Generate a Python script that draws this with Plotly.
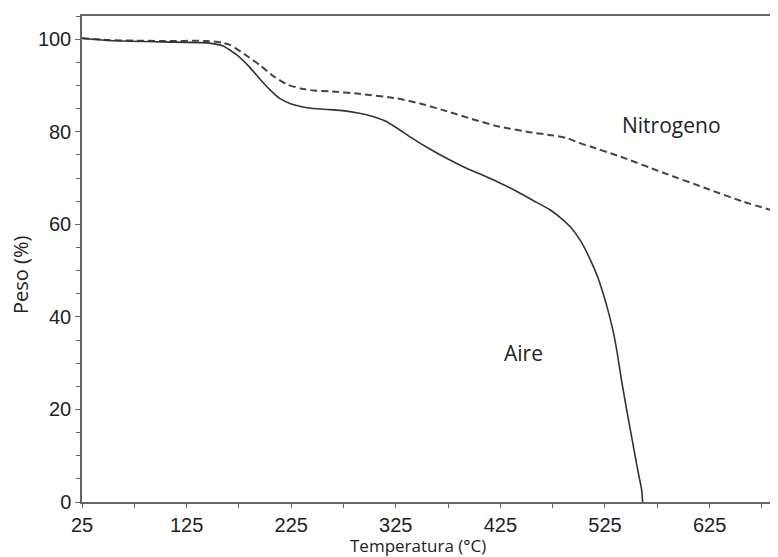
import plotly.graph_objects as go

# Aire (solid)
temp_aire = [25, 50, 100, 145, 160, 173, 185, 195, 205, 214, 225, 235, 246, 260, 272,
             290, 303, 315, 326, 342, 358, 374, 389, 405, 422, 440, 455, 472, 482, 492,
             502, 511, 518, 523, 528, 533, 537, 541, 546, 551, 555, 558, 560, 561]
peso_aire = [100.2, 99.7, 99.4, 99.2, 98.5, 96.6, 94.0, 91.4, 89.0, 87.2, 86.0, 85.4, 85.0, 84.8, 84.6,
             84.0, 83.3, 82.3, 80.8, 78.4, 76.2, 74.2, 72.5, 70.9, 69.2, 67.2, 65.3, 63.2, 61.5, 59.4,
             56.3, 52.3, 48.6, 45.2, 41.3, 36.7, 31.8, 26.0, 19.6, 13.4, 8.5, 5.0, 2.7, 0.0]

# Nitrogeno (dashed)
temp_n2 = [25, 50, 100, 145, 160, 167, 180, 195, 208, 221, 235, 246, 262, 290, 326, 350,
           374, 400, 422, 453, 475, 489, 500, 511, 540, 580, 620, 657, 691]
peso_n2 = [100.2, 99.8, 99.6, 99.6, 99.2, 98.7, 96.8, 94.4, 92.0, 90.2, 89.3, 88.9, 88.7, 88.2, 87.2, 86.0,
           84.4, 82.6, 81.2, 79.9, 79.2, 78.6, 77.6, 76.8, 74.6, 71.2, 67.9, 64.9, 62.6]

x_ticks = [25, 125, 225, 325, 425, 525, 625]
y_ticks = [0, 20, 40, 60, 80, 100]

fig = go.Figure()
fig.add_trace(go.Scatter(x=temp_n2, y=peso_n2, mode="lines", name="Nitrogeno",
                         line=dict(color="#444444", width=2, dash="7px,4px", shape="spline", smoothing=0.5)))
fig.add_trace(go.Scatter(x=temp_aire, y=peso_aire, mode="lines", name="Aire",
                         line=dict(color="#333333", width=1.6, shape="spline", smoothing=0.5)))

tickfont = dict(family="Liberation Sans, Arial", size=20, color="#222222")
fig.update_layout(
    width=778, height=557,
    margin=dict(l=74, r=8, t=6, b=63),
    plot_bgcolor="white", paper_bgcolor="white",
    showlegend=False,
    xaxis=dict(range=[25, 690.4], tickvals=x_ticks, ticktext=[str(v) for v in x_ticks],
               showgrid=False, zeroline=False, showline=True, linecolor="#666666", linewidth=1.5,
               mirror=True, ticks="outside", ticklen=4, tickcolor="#666666", tickfont=tickfont,
               minor=dict(tick0=75, dtick=100, ticks="outside", ticklen=4, tickcolor="#666666")),
    yaxis=dict(range=[0, 105], tickvals=y_ticks, showgrid=False, zeroline=False,
               showline=True, linecolor="#666666", linewidth=1.5,
               ticks="outside", ticklen=5, tickcolor="#666666", tickfont=tickfont,
               minor=dict(tick0=0, dtick=5, ticks="outside", ticklen=4, tickcolor="#666666")),
)

labfont = dict(family="Open Sans", size=21, color="#222222")
fig.add_annotation(x=589, y=81.4, text="Nitrogeno", showarrow=False, font=labfont)
fig.add_annotation(x=447, y=32.2, text="Aire", showarrow=False, font=labfont)
fig.add_annotation(xref="paper", yref="paper", x=(418 - 82) / 696, y=(502 - 546) / 488,
                   text="Temperatura (°C)", showarrow=False, yanchor="middle",
                   font=dict(family="Open Sans", size=17, color="#222222"))
fig.add_annotation(xref="paper", yref="paper", x=(21 - 82) / 696, y=(502 - 274) / 488,
                   text="Peso (%)", showarrow=False, textangle=-90, xanchor="center", yanchor="middle",
                   font=dict(family="Open Sans", size=20, color="#222222"))

fig.write_html("out.html")
